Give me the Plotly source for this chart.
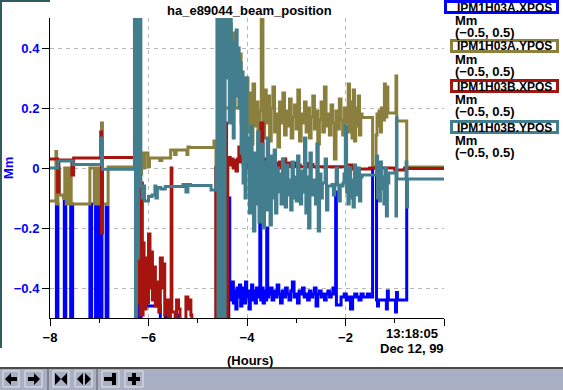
import numpy as np
import plotly.graph_objects as go

# ---------------- data (hours before 13:18:05, value in Mm) ----------------
TITLE = "ha_e89044_beam_position"
SERIES_NAMES = ["IPM1H03A.XPOS", "IPM1H03A.YPOS", "IPM1H03B.XPOS", "IPM1H03B.YPOS"]
SERIES_UNITS = ["Mm", "Mm", "Mm", "Mm"]
SERIES_RANGES = ["(\u22120.5, 0.5)"] * 4
X_TICKS = [-8, -6, -4, -2, 0]
X_TICK_TEXT = ["\u22128", "\u22126", "\u22124", "\u22122", ""]
X_MINOR = [-7, -5, -3, -1]
Y_TICKS = [-0.4, -0.2, 0, 0.2, 0.4]
Y_TICK_TEXT = ["\u22120.4", "\u22120.2", "0", "0.2", "0.4"]
END_TIME = ["13:18:05", "Dec 12, 99"]

# ----- IPM1H03A.XPOS (blue)
blue_a = [(-8.00, -0.70), (-7.87, -0.12), (-7.84, -0.70), (-7.71, -0.11), (-7.68, -0.70),
          (-7.58, -0.12), (-7.54, -0.70), (-7.19, -0.12), (-7.155, -0.70), (-7.075, -0.12),
          (-7.04, -0.70), (-6.98, -0.12), (-6.945, -0.70), (-6.86, -0.13), (-6.825, -0.70),
          (-6.235, 0.12), (-6.20, -0.04), (-6.185, -0.62), (-6.15, -0.35), (-6.11, -0.46),
          (-6.06, -0.35), (-6.04, -0.46), (-5.76, -0.70), (-5.66, -0.49), (-5.62, -0.70),
          (-5.43, -0.49), (-5.41, -0.70), (-4.47, 0.00), (-4.455, -0.62), (-4.43, -0.01),
          (-4.40, -0.60), (-4.37, -0.10)]
blue_n1 = dict(t0=-4.35, t1=-3.76, v=[-0.40, -0.44, -0.38, -0.45, -0.41, -0.47, -0.40, -0.43, -0.39,
                                      -0.46, -0.42, -0.40, -0.45, -0.38, -0.43, -0.41, -0.47, -0.42,
                                      -0.39, -0.44, -0.41, -0.45, -0.40, -0.43, -0.42])
blue_b = [(-3.74, -0.146), (-3.72, -0.44)]
blue_n2 = dict(t0=-3.70, t1=-3.62, v=[-0.40, -0.45, -0.41, -0.44])
blue_c = [(-3.60, -0.20), (-3.58, -0.43)]
blue_n3 = dict(t0=-3.56, t1=-2.22, v=[-0.42, -0.40, -0.44, -0.41, -0.43, -0.39, -0.42, -0.45, -0.41,
                                      -0.43, -0.40, -0.42, -0.44, -0.41, -0.38, -0.43, -0.42, -0.45,
                                      -0.41, -0.42, -0.40, -0.43, -0.42, -0.44, -0.41, -0.43, -0.42,
                                      -0.40, -0.46, -0.42, -0.41, -0.43, -0.42, -0.44, -0.42, -0.41,
                                      -0.43, -0.42, -0.40, -0.42])
blue_d = [(-2.20, -0.08), (-2.185, -0.457), (-2.09, -0.43)]
blue_n4 = dict(t0=-2.07, t1=-1.47, v=[-0.43, -0.42, -0.44, -0.43, -0.47, -0.43, -0.42, -0.43,
                                      -0.44, -0.42, -0.43, -0.43, -0.42, -0.43, -0.43])
blue_e = [(-1.45, 0.00), (-1.37, -0.44), (-1.35, -0.46), (-1.33, -0.44), (-1.17, -0.47),
          (-1.15, -0.41), (-1.13, -0.44), (-0.985, -0.48), (-0.965, -0.415), (-0.945, -0.44),
          (-0.757, 0.00), (0.0, 0.00)]

# ----- IPM1H03A.YPOS (olive)
olive_a = [(-8.00, -0.11), (-7.88, 0.055), (-7.865, -0.12), (-7.84, 0.0), (-7.81, -0.09),
           (-7.73, -0.10), (-7.70, 0.0), (-7.67, -0.12), (-7.63, 0.0), (-7.57, -0.12),
           (-7.19, 0.0), (-7.10, -0.12), (-7.07, 0.0), (-7.03, -0.12), (-7.00, 0.0),
           (-6.975, -0.12), (-6.955, 0.15), (-6.935, -0.12), (-6.82, 0.003),
           (-6.285, 0.65), (-6.26, -0.11), (-6.24, 0.40), (-6.22, 0.65), (-6.20, 0.12),
           (-6.18, 0.45), (-6.165, -0.02), (-6.14, 0.05), (-6.09, 0.0), (-6.075, 0.05),
           (-6.01, 0.005), (-5.98, 0.033), (-5.77, 0.025), (-5.73, 0.033), (-5.55, 0.06),
           (-5.47, 0.045), (-5.44, 0.06), (-5.22, 0.045), (-5.20, 0.07), (-5.17, 0.068),
           (-4.67, 0.09), (-4.63, 0.0), (-4.60, 0.55), (-4.57, 0.08), (-4.52, 0.6),
           (-4.48, 0.2), (-4.35, 0.48), (-4.32, 0.25), (-4.28, 0.45), (-4.24, 0.20),
           (-4.16, 0.38), (-4.12, 0.15), (-4.07, 0.30)]
olive_n1 = dict(t0=-3.98, t1=-1.99, v=[0.12, 0.25, 0.08, 0.28, 0.14, 0.22, 0.06, 0.19, 0.52, 0.10,
                                       0.26, 0.15, 0.24, 0.09, 0.20, 0.27, 0.12, 0.18, 0.07, 0.22,
                                       0.15, 0.25, 0.11, 0.19, 0.14, 0.23, 0.10, 0.17, 0.21, 0.13,
                                       0.26, 0.09, 0.18, 0.15, 0.22, 0.12, 0.20, 0.10, 0.17, 0.24,
                                       0.13, 0.19, 0.08, 0.16, 0.22, 0.12, 0.27, 0.14, 0.18, 0.11,
                                       0.21, 0.15, 0.03, 0.19, 0.13, 0.23, 0.16, 0.11, 0.20, 0.15])
olive_n2 = dict(t0=-1.97, t1=-1.69, v=[0.17, 0.28, 0.12, 0.22, 0.10, 0.26, 0.09, 0.20, 0.14,
                                       0.24, 0.11, 0.18])
olive_b = [(-1.665, 0.168), (-1.45, 0.004), (-1.38, 0.11), (-1.36, 0.18), (-1.34, 0.14),
           (-1.32, 0.19), (-1.29, 0.12), (-1.27, 0.20), (-1.24, 0.16), (-1.21, 0.28),
           (-1.19, 0.17), (-1.16, 0.27), (-1.14, 0.183), (-0.975, 0.307), (-0.96, 0.157),
           (-0.757, 0.003), (0.0, 0.003)]

# ----- IPM1H03B.XPOS (red)
red_a = [(-8.00, 0.03), (-7.845, -0.08), (-7.82, 0.027), (-7.555, -0.023), (-7.52, 0.033),
         (-6.97, 0.12), (-6.955, -0.217), (-6.935, 0.035), (-6.245, 0.43), (-6.225, -0.05),
         (-6.205, -0.45), (-6.19, -0.10), (-6.17, -0.49), (-6.14, -0.05), (-6.125, -0.49),
         (-6.11, -0.25), (-6.09, -0.47), (-6.05, -0.30), (-6.03, -0.45), (-6.00, -0.22),
         (-5.97, -0.40), (-5.95, -0.28), (-5.92, -0.44), (-5.89, -0.33), (-5.86, -0.46),
         (-5.83, -0.38), (-5.79, -0.48), (-5.76, -0.30), (-5.72, -0.40), (-5.70, -0.32),
         (-5.67, -0.49), (-5.62, -0.44), (-5.59, -0.50), (-5.555, -0.46), (-5.54, 0.0),
         (-5.525, -0.48), (-5.46, -0.60), (-5.43, -0.44), (-5.39, -0.47), (-5.36, -0.60),
         (-5.24, -0.43), (-5.20, -0.47), (-5.17, -0.44), (-5.14, -0.49), (-5.12, -0.60),
         (-4.635, 0.0), (-4.62, -0.6), (-4.555, 0.0), (-4.54, -0.6), (-4.47, 0.6),
         (-4.455, -0.6), (-4.43, 0.15), (-4.415, -0.6), (-4.39, 0.02)]
red_n1 = dict(t0=-4.37, t1=-3.99, v=[0.035, 0.01, 0.03, 0.0, 0.025, -0.01, 0.03, 0.07, 0.02,
                                     0.035, 0.01, 0.03, 0.0, 0.02])
red_n2 = dict(t0=-3.97, t1=-2.92, v=[0.02, 0.0, 0.025, -0.01, 0.02, 0.03, 0.15, 0.01, 0.03,
                                     -0.005, 0.02, 0.035, 0.017, 0.017, 0.0, 0.02, 0.017, 0.03,
                                     0.017, 0.005, 0.017, 0.01, 0.017, 0.004, 0.01, 0.004])
red_b = [(-2.90, 0.004), (-2.80, 0.015), (-2.76, 0.004), (-2.70, 0.012), (-2.66, 0.004),
         (-1.99, 0.01), (-1.87, -0.003), (-1.51, 0.0), (-1.00, -0.007), (-0.80, 0.0),
         (-0.757, -0.002), (0.0, -0.002)]

# ----- IPM1H03B.YPOS (teal)
teal_a = [(-8.00, 0.0), (-7.84, 0.023), (-7.53, 0.012), (-6.955, 0.10), (-6.935, -0.004),
          (-6.285, 0.7), (-6.265, -0.7), (-6.245, 0.7), (-6.225, -0.3), (-6.205, 0.7),
          (-6.185, 0.1), (-6.17, 0.55), (-6.155, -0.06), (-6.13, -0.10), (-6.11, -0.06),
          (-6.08, -0.11), (-6.00, -0.095), (-5.93, -0.09), (-5.87, -0.06), (-5.85, -0.10),
          (-5.82, -0.065), (-5.75, -0.07), (-5.66, -0.062), (-5.30, -0.055), (-5.24, -0.08),
          (-5.20, -0.055), (-5.15, -0.058), (-4.73, -0.073), (-4.63, 0.0), (-4.61, 0.7),
          (-4.59, -0.7), (-4.565, 0.7), (-4.545, -0.7), (-4.52, 0.7), (-4.50, -0.7),
          (-4.48, 0.7), (-4.46, -0.7), (-4.445, 0.5), (-4.42, 0.3), (-4.40, 0.5)]
teal_n1 = dict(t0=-4.38, t1=-4.00, v=[0.45, 0.15, 0.50, 0.20, 0.42, 0.10, 0.38, 0.24, 0.46, 0.30,
                                      0.40, 0.20, 0.35, 0.05, 0.32, -0.05, 0.28, -0.10, 0.30, 0.02])
teal_n2 = dict(t0=-3.98, t1=-2.05, v=[0.10, -0.15, 0.14, -0.08, -0.21, 0.05, -0.12, 0.12, -0.18,
                                      -0.02, 0.08, -0.20, 0.02, -0.14, 0.10, -0.06, -0.19, 0.04,
                                      -0.10, 0.06, -0.15, 0.00, -0.08, -0.02, -0.12, 0.03, -0.07,
                                      -0.13, 0.01, -0.09, -0.04, -0.14, 0.02, -0.10, -0.03, -0.11,
                                      0.04, -0.06, -0.12, -0.01, -0.08, 0.10, -0.15, -0.03, -0.20,
                                      0.05, -0.09, -0.04, -0.04, -0.12, 0.08, -0.21, -0.02, -0.10,
                                      -0.05, -0.05, 0.03, -0.14, -0.06, -0.06, -0.06, -0.055, -0.09,
                                      -0.055, 0.0, -0.057, -0.11, -0.057, -0.06, -0.05])
teal_n3 = dict(t0=-2.03, t1=-1.69, v=[-0.02, 0.14, -0.08, -0.12, 0.0, -0.10, -0.04, -0.13, 0.01,
                                      -0.09, -0.05, 0.0, -0.11, -0.03])
teal_b = [(-1.665, -0.023), (-1.37, 0.04), (-1.35, -0.10), (-1.33, -0.01), (-1.31, -0.11),
          (-1.29, 0.02), (-1.27, -0.07), (-1.25, -0.03), (-1.22, -0.12), (-1.20, 0.0),
          (-1.17, -0.16), (-1.15, -0.05), (-1.12, -0.017), (-0.975, -0.16), (-0.965, 0.167),
          (-0.955, -0.037), (-0.77, 0.02), (-0.755, -0.13), (-0.74, -0.037), (0.0, -0.037)]

COLORS = ["#0000ff", "#8a7f3c", "#a5140f", "#437e8e"]


def build(*parts):
    t, v = [], []
    for p in parts:
        if isinstance(p, dict):
            t.extend(np.linspace(p["t0"], p["t1"], len(p["v"])).tolist())
            v.extend(p["v"])
        else:
            for a, b in p:
                t.append(a)
                v.append(b)
    return t, v


series = [
    build(blue_a, blue_n1, blue_b, blue_n2, blue_c, blue_n3, blue_d, blue_n4, blue_e),
    build(olive_a, olive_n1, olive_n2, olive_b),
    build(red_a, red_n1, red_n2, red_b),
    build(teal_a, teal_n1, teal_n2, teal_n3, teal_b),
]

# ---------------- layout geometry (pixels) ----------------
W, H = 563, 390
L, R, T, B = 50, 444, 18, 318


def fx(x):
    return (x - L) / (R - L)


def fy(y):
    return (B - y) / (B - T)


FONT = "Liberation Sans"

fig = go.Figure()
draw_order = [0, 1, 2, 3]
for i in draw_order:
    t, v = series[i]
    fig.add_trace(go.Scatter(x=t, y=v, mode="lines", line=dict(color=COLORS[i], width=3, shape="hv"),
                             name=SERIES_NAMES[i], showlegend=False, hoverinfo="skip"))

grid = dict(gridcolor="#b8b8b8", griddash="4px,4px", gridwidth=1)
fig.update_layout(
    width=W, height=H,
    margin=dict(l=L, r=W - R, t=T, b=H - B, pad=0),
    paper_bgcolor="white", plot_bgcolor="white",
    showlegend=False,
    xaxis=dict(range=[-8, 0], tickmode="array", tickvals=X_TICKS, ticktext=X_TICK_TEXT,
               ticks="outside", ticklen=7, tickcolor="black", tickwidth=1,
               showline=True, linecolor="black", linewidth=1, zeroline=False,
               tickfont=dict(family=FONT, size=13, color="black", weight="bold"),
               minor=dict(tickmode="array", tickvals=X_MINOR, ticks="outside", ticklen=4,
                          tickcolor="black", showgrid=False),
               **grid),
    yaxis=dict(range=[-0.5, 0.5], tickmode="array", tickvals=Y_TICKS, ticktext=Y_TICK_TEXT,
               ticks="outside", ticklen=7, tickcolor="black", tickwidth=1,
               showline=True, linecolor="black", linewidth=1, zeroline=False,
               tickfont=dict(family=FONT, size=13, color="#0000ff", weight="bold"),
               **grid),
)

shapes = []
ann = []
BOLD13 = dict(family=FONT, size=13, color="black", weight="bold")
BOLD12 = dict(family=FONT, size=12, color="black", weight="bold")

# title and axis labels
ann.append(dict(text=TITLE, x=fx(249), y=fy(10), xref="paper", yref="paper", showarrow=False,
                xanchor="center", yanchor="middle", font=BOLD13))
ann.append(dict(text="Mm", x=fx(8), y=fy(168), xref="paper", yref="paper", showarrow=False,
                textangle=-90, xanchor="center", yanchor="middle",
                font=dict(family=FONT, size=13, color="#0000ff", weight="bold")))
ann.append(dict(text="(Hours)", x=fx(249.5), y=fy(360), xref="paper", yref="paper", showarrow=False,
                xanchor="center", yanchor="middle", font=BOLD13))
ann.append(dict(text=END_TIME[0], x=fx(439), y=fy(333), xref="paper", yref="paper", showarrow=False,
                xanchor="right", yanchor="middle", font=BOLD13, borderpad=0))
ann.append(dict(text=END_TIME[1], x=fx(445), y=fy(348), xref="paper", yref="paper", showarrow=False,
                xanchor="right", yanchor="middle", font=BOLD13, borderpad=0))

# legend boxes
rows = [7, 46, 86, 127]
for i in range(4):
    c = rows[i]
    x0 = 445.5 if i == 0 else 451.5
    shapes.append(dict(type="rect", xref="paper", yref="paper", x0=fx(x0), x1=fx(557.5),
                       y0=fy(c - 5.5), y1=fy(c + 5.5), line=dict(color=COLORS[i], width=3),
                       fillcolor="white", layer="above"))
    ann.append(dict(text=SERIES_NAMES[i], x=fx(456), y=fy(c + 0.5), xref="paper", yref="paper",
                    showarrow=False, xanchor="left", yanchor="middle", font=BOLD12, borderpad=0))
    ann.append(dict(text=SERIES_UNITS[i], x=fx(454), y=fy(c + 13.5), xref="paper", yref="paper",
                    showarrow=False, xanchor="left", yanchor="middle", font=BOLD13, borderpad=0))
    ann.append(dict(text=SERIES_RANGES[i], x=fx(454), y=fy(c + 25.5), xref="paper", yref="paper",
                    showarrow=False, xanchor="left", yanchor="middle", font=BOLD13, borderpad=0))

# dark frame pieces
FRAME = "#2f5d5f"
shapes.append(dict(type="rect", xref="paper", yref="paper", x0=fx(0), x1=fx(2), y0=fy(0), y1=fy(348),
                   fillcolor=FRAME, line=dict(width=0), layer="above"))
shapes.append(dict(type="rect", xref="paper", yref="paper", x0=fx(0), x1=fx(50), y0=fy(0), y1=fy(2),
                   fillcolor=FRAME, line=dict(width=0), layer="above"))

# toolbar
TB = "#aab0c3"
shapes.append(dict(type="rect", xref="paper", yref="paper", x0=fx(0), x1=fx(563), y0=fy(368), y1=fy(390),
                   fillcolor=TB, line=dict(width=0), layer="above"))
shapes.append(dict(type="line", xref="paper", yref="paper", x0=fx(0), x1=fx(563), y0=fy(368), y1=fy(368),
                   line=dict(color="#4a4a4a", width=2), layer="above"))
for sx in [48, 97]:
    shapes.append(dict(type="line", xref="paper", yref="paper", x0=fx(sx), x1=fx(sx), y0=fy(369), y1=fy(390),
                       line=dict(color="#5a5a5a", width=1), layer="above"))
buttons = [(3, 19), (25, 42), (53, 69), (75, 92), (102, 119), (125, 143)]
for bx0, bx1 in buttons:
    shapes.append(dict(type="rect", xref="paper", yref="paper", x0=fx(bx0), x1=fx(bx1),
                       y0=fy(371), y1=fy(387), fillcolor=TB,
                       line=dict(color="#e2e5ee", width=1), layer="above"))


def path(pts):
    return "M " + " L ".join(f"{fx(a):.5f},{fy(b):.5f}" for a, b in pts) + " Z"


icons = [
    [(5, 379), (11, 373), (11, 377), (17, 377), (17, 381), (11, 381), (11, 385)],
    [(40, 379), (34, 373), (34, 377), (28, 377), (28, 381), (34, 381), (34, 385)],
    [(55, 373), (61, 379), (55, 385)],
    [(67, 373), (61, 379), (67, 385)],
    [(77, 379), (83, 373), (83, 385)],
    [(85, 373), (91, 379), (85, 385)],
    [(104, 377), (112, 377), (112, 373), (116, 373), (116, 385), (112, 385), (112, 381), (104, 381)],
    [(128, 377), (132, 377), (132, 373), (136, 373), (136, 377), (140, 377), (140, 381), (136, 381),
     (136, 385), (132, 385), (132, 381), (128, 381)],
]
for pts in icons:
    shapes.append(dict(type="path", xref="paper", yref="paper", path=path(pts),
                       fillcolor="black", line=dict(width=0), layer="above"))

fig.update_layout(shapes=shapes, annotations=ann)
fig.write_html("out.html", config={"displayModeBar": False},
               post_script="document.body.style.margin='0';document.body.style.padding='0';")
